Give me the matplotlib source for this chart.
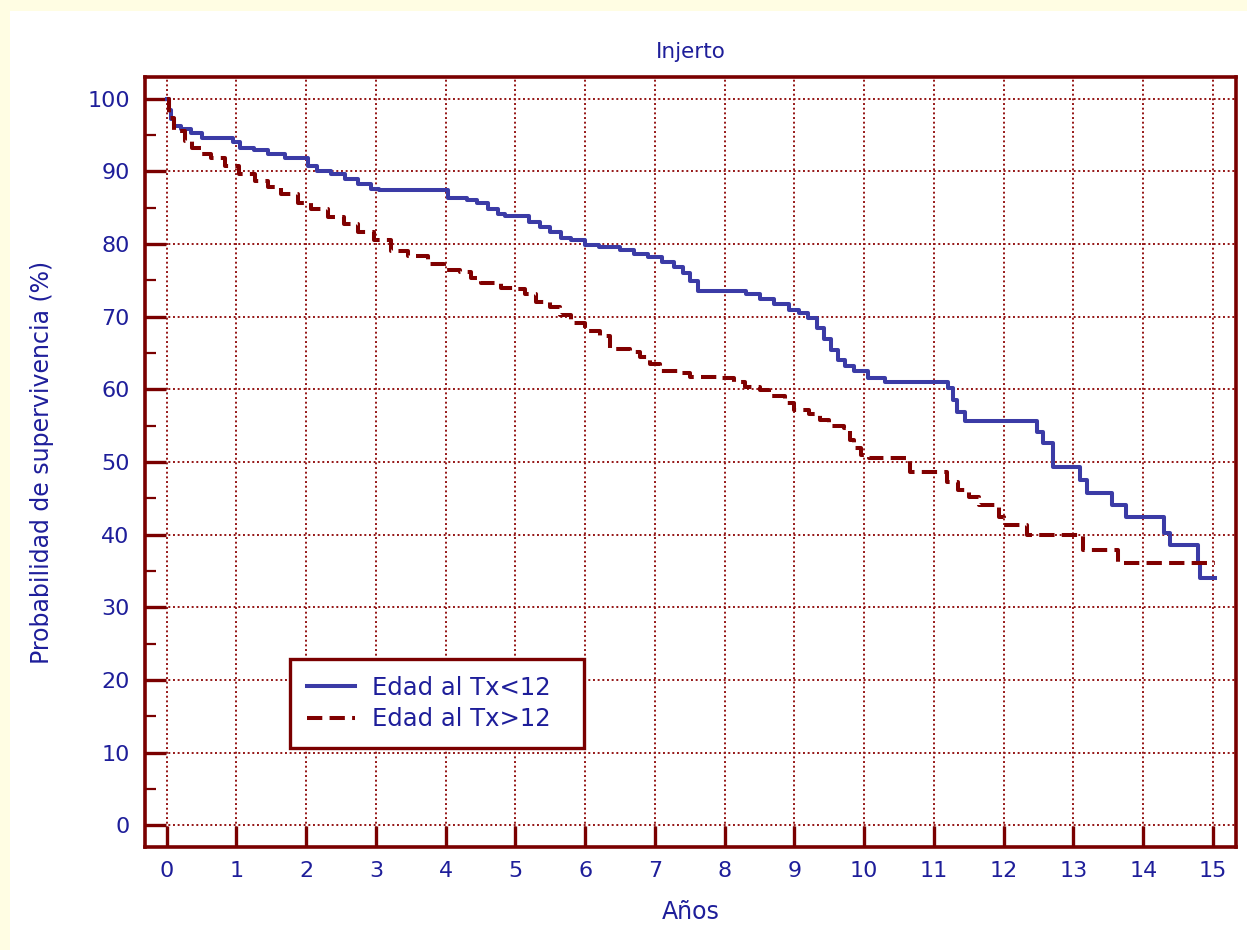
import matplotlib
matplotlib.use("Agg")
import matplotlib.pyplot as plt
from matplotlib.patches import Rectangle
from matplotlib.ticker import MultipleLocator

# Kaplan-Meier steps, graft survival by age at transplant
t_menor = [0, 0.03, 0.06, 0.1, 0.2, 0.35, 0.5, 0.95, 1.05, 1.25, 1.45, 1.7,
           2.03, 2.15, 2.35, 2.55, 2.75, 2.93, 3.05, 4.03, 4.3, 4.45, 4.6,
           4.75, 4.85, 5.2, 5.35, 5.5, 5.65, 5.8, 6.0, 6.2, 6.5, 6.7, 6.9,
           7.1, 7.28, 7.4, 7.5, 7.62, 8.3, 8.5, 8.7, 8.92, 9.07, 9.2, 9.32,
           9.42, 9.52, 9.62, 9.72, 9.85, 10.05, 10.3, 11.2, 11.27, 11.33,
           11.45, 12.47, 12.57, 12.7, 13.1, 13.2, 13.55, 13.75, 14.3, 14.38,
           14.78, 14.82, 15.03]
s_menor = [100, 98.5, 97.2, 96.3, 95.9, 95.3, 94.6, 94.0, 93.3, 92.9, 92.4,
           91.9, 90.8, 90.1, 89.7, 89.0, 88.3, 87.6, 87.4, 86.4, 86.1, 85.6,
           84.9, 84.2, 83.9, 83.1, 82.4, 81.7, 80.9, 80.5, 79.9, 79.6, 79.2,
           78.6, 78.2, 77.5, 76.9, 76.0, 74.9, 73.6, 73.2, 72.5, 71.8, 70.9,
           70.5, 69.8, 68.4, 67.0, 65.4, 64.1, 63.2, 62.5, 61.6, 61.0, 60.2,
           58.5, 56.9, 55.7, 54.1, 52.6, 49.3, 47.5, 45.7, 44.1, 42.4, 40.2,
           38.6, 36.1, 34.0, 34.0]

t_mayor = [0, 0.03, 0.1, 0.26, 0.36, 0.5, 0.64, 0.83, 1.03, 1.26, 1.46, 1.64,
           1.89, 2.07, 2.31, 2.54, 2.74, 2.97, 3.21, 3.46, 3.74, 3.97, 4.2,
           4.36, 4.5, 4.79, 5.0, 5.14, 5.29, 5.5, 5.64, 5.79, 6.0, 6.21, 6.36,
           6.64, 6.79, 6.93, 7.07, 7.36, 7.5, 7.93, 8.14, 8.29, 8.5, 8.64,
           8.86, 9.0, 9.21, 9.36, 9.5, 9.71, 9.79, 9.86, 9.96, 10.07, 10.65,
           11.19, 11.35, 11.5, 11.65, 11.93, 12.0, 12.33, 13.14, 13.64, 15.03]
s_mayor = [100, 97.4, 95.6, 94.2, 93.3, 92.4, 91.8, 90.8, 89.7, 88.7, 87.8,
           86.9, 85.7, 84.9, 83.7, 82.8, 81.6, 80.5, 79.1, 78.4, 77.3, 76.4,
           76.1, 75.4, 74.6, 74.0, 73.8, 73.1, 72.0, 71.3, 70.2, 69.1, 68.1,
           67.4, 65.5, 65.2, 64.4, 63.5, 62.6, 62.2, 61.7, 61.5, 61.0, 60.3,
           59.9, 59.1, 58.1, 57.1, 56.6, 55.8, 54.9, 54.7, 53.0, 51.9, 51.0,
           50.5, 48.6, 47.2, 46.2, 45.2, 44.1, 42.5, 41.3, 40.0, 37.9, 36.1,
           36.1]

etiquetas = ["Edad al Tx<12", "Edad al Tx>12"]

rojo = "#7a0000"
azul_txt = "#1e1e9a"
azul_linea = "#3b3ba6"
plt.rcParams["font.family"] = "DejaVu Sans"

fig = plt.figure(figsize=(12.47, 9.5), dpi=100, facecolor="#fffde3")
# white panel behind everything, leaving a thin yellow margin top/left
fig.patches.append(Rectangle((10 / 1247, 0), 1, 1 - 11 / 950,
                             transform=fig.transFigure, facecolor="white",
                             edgecolor="none", zorder=-5))
ax = fig.add_axes([0.1163, 0.1084, 0.9912 - 0.1163, 0.9189 - 0.1084])
ax.set_facecolor("white")

ax.step(t_menor, s_menor, where="post", color=azul_linea, lw=2.9,
        label=etiquetas[0], zorder=3)
ax.step(t_mayor, s_mayor, where="post", color="#800000", lw=2.9,
        dashes=(3.8, 1.8), label=etiquetas[1], zorder=3)

ax.set_xlim(-0.31, 15.33)
ax.set_ylim(-3.0, 103.0)
ax.xaxis.set_major_locator(MultipleLocator(1))
ax.yaxis.set_major_locator(MultipleLocator(10))
ax.yaxis.set_minor_locator(MultipleLocator(5))

ax.grid(True, which="major", color="#951515", lw=1.4,
        linestyle=(0, (1, 1.4)), zorder=1)
ax.set_axisbelow(True)

for s in ax.spines.values():
    s.set_color(rojo)
    s.set_linewidth(2.6)

ax.tick_params(axis="both", which="major", direction="in", length=15,
               width=2.4, color=rojo, labelcolor=azul_txt, labelsize=16)
ax.tick_params(axis="y", which="major", pad=11)
ax.tick_params(axis="x", which="major", pad=10)
ax.tick_params(axis="y", which="minor", direction="in", length=8,
               width=1.6, color=rojo)
ax.tick_params(top=False, right=False)

ax.set_title("Injerto", color=azul_txt, fontsize=15.5, pad=14)
ax.set_xlabel("Años", color=azul_txt, fontsize=17, labelpad=14)
ax.set_ylabel("Probabilidad de supervivencia (%)", color=azul_txt,
              fontsize=17, labelpad=24)

leg = ax.legend(loc="lower left", bbox_to_anchor=(0.133, 0.129, 0.269, 0.111),
                mode="expand", borderaxespad=0, fontsize=17.5, fancybox=False,
                handlelength=2.0, handletextpad=0.7, labelspacing=0.31,
                borderpad=0.68, framealpha=1)
leg.get_frame().set_edgecolor(rojo)
leg.get_frame().set_linewidth(2.4)
for txt in leg.get_texts():
    txt.set_color(azul_txt)

fig.savefig("out.png", dpi=100, facecolor=fig.get_facecolor())
